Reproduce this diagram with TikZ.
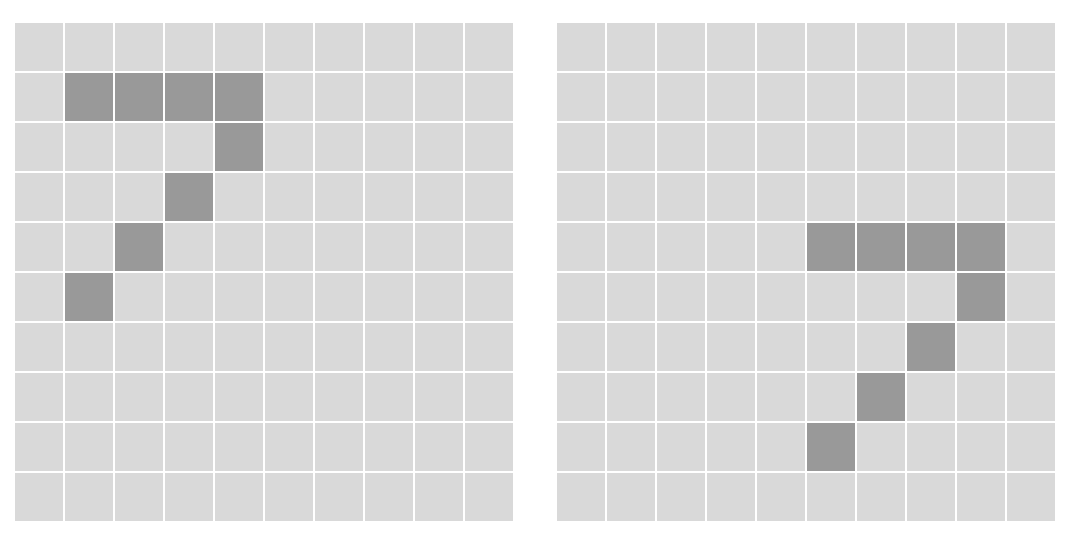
\documentclass[tikz,border=0pt]{standalone}
\usepackage{xcolor}
\usepackage{tikz}
\definecolor{cellc}{HTML}{D9D9D9}
\definecolor{markc}{HTML}{999999}
\tikzset{
  cell/.style={fill=cellc, draw=none},
  markcell/.style={fill=markc, draw=none},
}

\begin{document}
\begin{tikzpicture}[x=1pt, y=-1pt]
  \useasboundingbox (0,0) rectangle (1068,542);
  % two 10x10 boards, 50 units per cell
  \foreach \ox in {15,557} {
    \foreach \r in {0,...,9} {
      \foreach \c in {0,...,9} {
        \fill[cell] ({\ox+50*\c},{23+50*\r}) rectangle ++(48,48);
      }
    }
  }
  % left board: marked cells (col,row)
  \foreach \c/\r in {1/1, 2/1, 3/1, 4/1, 4/2, 3/3, 2/4, 1/5} {
    \fill[markcell] ({15+50*\c},{23+50*\r}) rectangle ++(48,48);
  }
  % right board: same shape shifted
  \foreach \c/\r in {5/4, 6/4, 7/4, 8/4, 8/5, 7/6, 6/7, 5/8} {
    \fill[markcell] ({557+50*\c},{23+50*\r}) rectangle ++(48,48);
  }
\end{tikzpicture}
\end{document}
